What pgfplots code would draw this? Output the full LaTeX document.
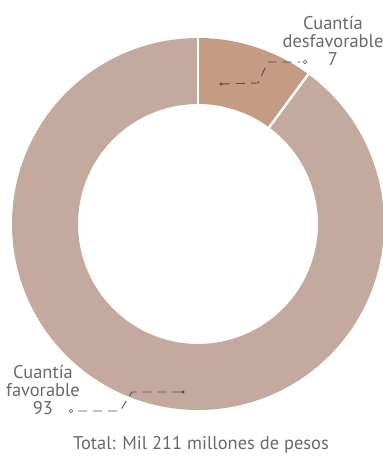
\documentclass[border=0pt]{standalone}
\usepackage{fontspec}
\setmainfont{PT Sans}
\usepackage{pgfplots}
\pgfplotsset{compat=1.18}
\definecolor{cdes}{RGB}{197,155,132}
\definecolor{cfav}{RGB}{196,169,158}
\definecolor{ctxt}{RGB}{105,105,105}
\definecolor{clead}{RGB}{80,80,80}
% values shown (percent)
\def\vDes{7}
\def\vFav{93}
% share of the ring as drawn in the reference (degrees)
\def\sDes{10.1}
\def\sFav{89.9}
\begin{document}
\begin{tikzpicture}
\pgfmathsetmacro{\aStart}{90}
\pgfmathsetmacro{\aMid}{90-360*\sDes/(\sDes+\sFav)}
\pgfmathsetmacro{\aEnd}{90-360}
\def\cx{198}\def\cy{236}
\def\rm{153}
\begin{axis}[
  width=383bp, height=460bp, scale only axis,
  xmin=0, xmax=383, ymin=0, ymax=460,
  axis lines=none, clip=false,
]
% donut slices (ring of mid radius 153, thickness 66)
\addplot[cdes, line width=66bp, domain=\aMid:\aStart, samples=60, line cap=butt]
  ({\cx+\rm*cos(x)},{\cy+\rm*sin(x)});
\addplot[cfav, line width=66bp, domain=\aEnd:\aMid, samples=240, line cap=butt]
  ({\cx+\rm*cos(x)},{\cy+\rm*sin(x)});
% separators
\addplot[white, line width=2.4bp, domain=112:194, samples=2]
  ({\cx+x*cos(\aStart)},{\cy+x*sin(\aStart)});
\addplot[white, line width=2.4bp, domain=112:194, samples=2]
  ({\cx+x*cos(\aMid)},{\cy+x*sin(\aMid)});
% leader lines
\addplot[clead, dash pattern=on 9bp off 6bp, line width=0.9bp]
  coordinates {(221,376) (258,377) (268,398) (300,398)};
\addplot[clead, only marks, mark=*, mark size=1.4bp] coordinates {(221,376)};
\addplot[clead, only marks, mark=o, mark size=1.8bp, mark options={line width=0.6bp}] coordinates {(305,398)};
\addplot[clead, dash pattern=on 9bp off 6bp, line width=0.9bp]
  coordinates {(78,49) (120,49) (132,68) (183,68)};
\addplot[clead, only marks, mark=*, mark size=1.4bp] coordinates {(183,68)};
\addplot[clead, only marks, mark=o, mark size=1.8bp, mark options={line width=0.6bp}] coordinates {(71,49)};
% labels
\node[ctxt, font=\fontsize{18.5}{20}\selectfont, align=center] at (axis cs:333,419) {Cuantía\\[-2bp]desfavorable\\[-2bp]\vDes};
\node[ctxt, font=\fontsize{18.5}{20}\selectfont, align=center] at (axis cs:43,70) {Cuantía\\[-2bp]favorable\\[-2bp]\vFav};
\node[ctxt, font=\fontsize{18.5}{20}\selectfont] at (axis cs:201,15) {Total: Mil 211 millones de pesos};
\end{axis}
\pgfresetboundingbox
\path (0,0) rectangle (383bp,460bp);
\end{tikzpicture}
\end{document}
